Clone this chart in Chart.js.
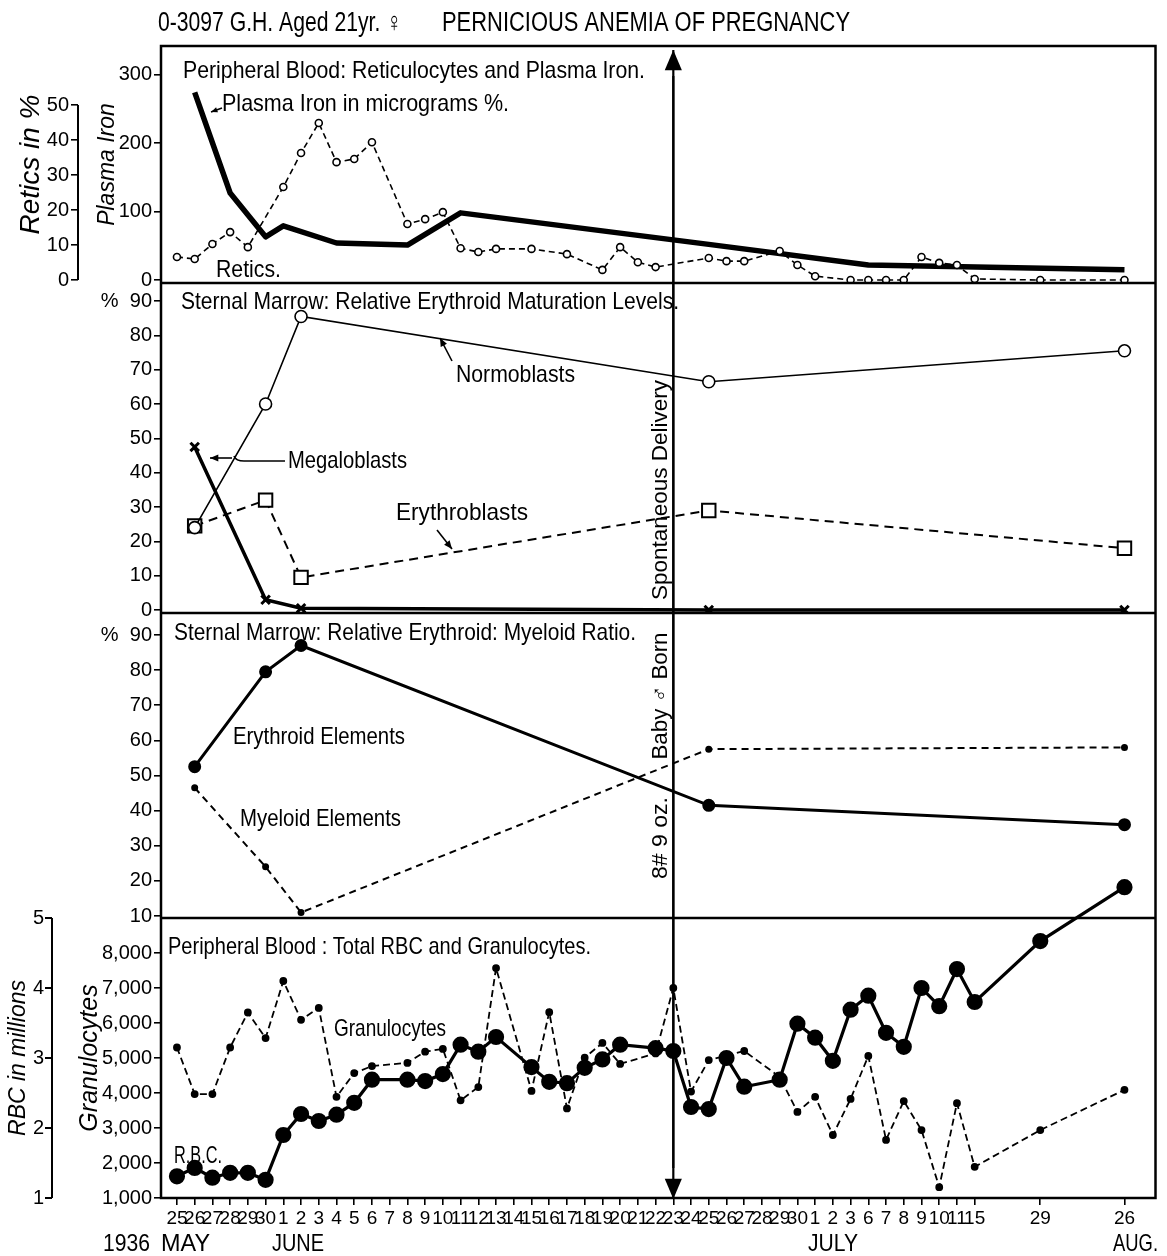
<!DOCTYPE html>
<html>
<head>
<meta charset="utf-8">
<script src="https://cdn.jsdelivr.net/npm/chart.js@4.4.1/dist/chart.umd.min.js"></script>
<style>
  html, body { margin: 0; padding: 0; background: #fff; }
</style>
</head>
<body>
<canvas id="chart" width="1167" height="1256"></canvas>
<script>
// ---- dates on the hand drawn time axis ----
const mayDays = [25, 26, 27, 28, 29, 30];
const juneDays = [1, 2, 3, 4, 5, 6, 7, 8, 9, 10, 11, 12, 13, 14, 15, 16, 17, 18, 19, 20,
                  21, 22, 23, 24, 25, 26, 27, 28, 29, 30];
const julyDays = [1, 2, 3, 6, 7, 8, 9, 10, 11, 15, 29];
const augDays = [26];

const dateKeys = [
  ...mayDays.map(d => 'May ' + d),
  ...juneDays.map(d => 'Jun ' + d),
  ...julyDays.map(d => 'Jul ' + d),
  ...augDays.map(d => 'Aug ' + d)
];
const tickLabels = [...mayDays, ...juneDays, ...julyDays, ...augDays].map(String);
// the last two columns were drawn further apart than the daily ones
const widerSlots = { 'Jul 29': 48.7, 'Aug 26': 53.45 };
const slotOf = k => (k in widerSlots ? widerSlots[k] : dateKeys.indexOf(k));

// ---- panel 1: reticulocytes (%) and plasma iron (micrograms %) ----
const retics = [
  ['May 25', 6.6], ['May 26', 6.0], ['May 27', 10.3], ['May 28', 13.7], ['May 29', 9.4],
  ['Jun 1', 26.6], ['Jun 2', 36.3], ['Jun 3', 44.9], ['Jun 4', 33.7], ['Jun 5', 34.6], ['Jun 6', 39.4],
  ['Jun 8', 16.0], ['Jun 9', 17.4], ['Jun 10', 19.4], ['Jun 11', 9.1], ['Jun 12', 8.0], ['Jun 13', 8.9],
  ['Jun 15', 8.9], ['Jun 17', 7.4], ['Jun 19', 2.9], ['Jun 20', 9.4], ['Jun 21', 5.1], ['Jun 22', 3.7],
  ['Jun 25', 6.3], ['Jun 26', 5.4], ['Jun 27', 5.4], ['Jun 29', 8.3], ['Jun 30', 4.3], ['Jul 1', 1.1],
  ['Jul 3', 0], ['Jul 6', 0], ['Jul 7', 0], ['Jul 8', 0], ['Jul 9', 6.6], ['Jul 10', 4.9],
  ['Jul 11', 4.3], ['Jul 15', 0.3], ['Jul 29', 0], ['Aug 26', 0]
];
const plasmaIron = [
  ['May 26', 274], ['May 28', 127], ['May 30', 63], ['Jun 1', 79], ['Jun 4', 54], ['Jun 8', 51],
  ['Jun 11', 98], ['Jun 25', 52], ['Jul 6', 22], ['Aug 26', 15]
];
const reticsTicks = [0, 10, 20, 30, 40, 50];
const ironTicks = [0, 100, 200, 300];

// ---- panel 2: maturation levels (%) ----
const normoblasts = [['May 26', 24], ['May 30', 60], ['Jun 2', 85.5], ['Jun 25', 66.5], ['Aug 26', 75.5]];
const erythroblasts = [['May 26', 24.5], ['May 30', 32], ['Jun 2', 9.5], ['Jun 25', 29], ['Aug 26', 18]];
const megaloblasts = [['May 26', 47.5], ['May 30', 3], ['Jun 2', 0.5], ['Jun 25', 0], ['Aug 26', 0]];
const matTicks = [0, 10, 20, 30, 40, 50, 60, 70, 80, 90];

// ---- panel 3: erythroid : myeloid (%) ----
const erythroid = [['May 26', 52.5], ['May 30', 79.5], ['Jun 2', 87], ['Jun 25', 41.5], ['Aug 26', 36]];
const myeloid = [['May 26', 46.5], ['May 30', 24], ['Jun 2', 11], ['Jun 25', 57.5], ['Aug 26', 58]];
const ratioTicks = [10, 20, 30, 40, 50, 60, 70, 80, 90];

// ---- panel 4: RBC (millions) and granulocytes ----
const rbc = [
  ['May 25', 1.31], ['May 26', 1.43], ['May 27', 1.29], ['May 28', 1.36], ['May 29', 1.36], ['May 30', 1.26],
  ['Jun 1', 1.9], ['Jun 2', 2.2], ['Jun 3', 2.1], ['Jun 4', 2.19], ['Jun 5', 2.36], ['Jun 6', 2.69],
  ['Jun 8', 2.69], ['Jun 9', 2.67], ['Jun 10', 2.77], ['Jun 11', 3.19], ['Jun 12', 3.09], ['Jun 13', 3.3],
  ['Jun 15', 2.87], ['Jun 16', 2.66], ['Jun 17', 2.64], ['Jun 18', 2.86], ['Jun 19', 2.98], ['Jun 20', 3.19],
  ['Jun 22', 3.14], ['Jun 23', 3.1], ['Jun 24', 2.3], ['Jun 25', 2.27], ['Jun 26', 3.0], ['Jun 27', 2.59],
  ['Jun 29', 2.69], ['Jun 30', 3.49], ['Jul 1', 3.29], ['Jul 2', 2.96], ['Jul 3', 3.69], ['Jul 6', 3.89],
  ['Jul 7', 3.36], ['Jul 8', 3.16], ['Jul 9', 4.0], ['Jul 10', 3.74], ['Jul 11', 4.27], ['Jul 15', 3.8],
  ['Jul 29', 4.67], ['Aug 26', 5.44]
];
const granulocytes = [
  ['May 25', 5300], ['May 26', 3970], ['May 27', 3970], ['May 28', 5300], ['May 29', 6300], ['May 30', 5570],
  ['Jun 1', 7200], ['Jun 2', 6090], ['Jun 3', 6430], ['Jun 4', 3890], ['Jun 5', 4570], ['Jun 6', 4770],
  ['Jun 8', 4860], ['Jun 9', 5180], ['Jun 10', 5260], ['Jun 11', 3790], ['Jun 12', 4170], ['Jun 13', 7570],
  ['Jun 15', 4060], ['Jun 16', 6310], ['Jun 17', 3560], ['Jun 18', 5010], ['Jun 19', 5430], ['Jun 20', 4830],
  ['Jun 22', 5130], ['Jun 23', 7000], ['Jun 24', 4040], ['Jun 25', 4940], ['Jun 27', 5200], ['Jun 29', 4460],
  ['Jun 30', 3460], ['Jul 1', 3890], ['Jul 2', 2800], ['Jul 3', 3830], ['Jul 6', 5060], ['Jul 7', 2660],
  ['Jul 8', 3770], ['Jul 9', 2940], ['Jul 10', 1310], ['Jul 11', 3710], ['Jul 15', 1890], ['Jul 29', 2940],
  ['Aug 26', 4090]
];
const rbcTicks = [1, 2, 3, 4, 5];
const granTicks = [1000, 2000, 3000, 4000, 5000, 6000, 7000, 8000];

const SANS = '"Liberation Sans", Arial, sans-serif';
const toXY = rows => rows.map(([k, v]) => ({ x: slotOf(k), y: v }));
const setTicks = list => scale => { scale.ticks = list.map(v => ({ value: v })); };
const tickFont = { family: SANS, size: 20 };
const titleFont = size => ({ family: SANS, size, style: 'italic', lineHeight: 1 });

function leftAxis(stack, weight, stackWeight, min, max, ticks, width, extra) {
  return Object.assign({
    type: 'linear', position: 'left', stack, weight, stackWeight, min, max,
    afterBuildTicks: setTicks(ticks),
    ticks: { font: tickFont, color: '#000', padding: 2, autoSkip: false },
    grid: { drawOnChartArea: false, tickLength: 7, color: '#000', lineWidth: 1.6 },
    border: { display: false },
    afterFit: s => { s.width = width; }
  }, extra || {});
}
function spacer(weight, stackWeight) {
  return {
    type: 'linear', position: 'left', stack: 'outer', weight, stackWeight,
    ticks: { display: false }, grid: { display: false }, border: { display: false },
    afterFit: s => { s.width = 78; }
  };
}
const pct90 = v => (v === 90 ? '%  90' : String(v));

function seg(ctx, x1, y1, x2, y2) {
  ctx.beginPath(); ctx.moveTo(x1, y1); ctx.lineTo(x2, y2); ctx.stroke();
}
function arrowTo(ctx, x1, y1, x2, y2, size) {
  seg(ctx, x1, y1, x2, y2);
  const ang = Math.atan2(y2 - y1, x2 - x1);
  ctx.beginPath();
  ctx.moveTo(x2, y2);
  ctx.lineTo(x2 - size * Math.cos(ang - 0.4), y2 - size * Math.sin(ang - 0.4));
  ctx.lineTo(x2 - size * Math.cos(ang + 0.4), y2 - size * Math.sin(ang + 0.4));
  ctx.closePath(); ctx.fill();
}
function fitText(ctx, txt, x, y, w, font) {
  ctx.font = font;
  const m = ctx.measureText(txt).width;
  ctx.save(); ctx.translate(x, y); ctx.scale(w / m, 1);
  ctx.textAlign = 'left'; ctx.textBaseline = 'alphabetic';
  ctx.fillText(txt, 0, 0);
  ctx.restore();
}
function upText(ctx, txt, cx, cy, len, font) {
  ctx.save(); ctx.translate(cx, cy); ctx.rotate(-Math.PI / 2);
  ctx.font = font;
  const m = ctx.measureText(txt).width;
  ctx.scale(len / m, 1);
  ctx.textAlign = 'center'; ctx.textBaseline = 'middle';
  ctx.fillText(txt, 0, 0);
  ctx.restore();
}

const notes = {
  id: 'notes',
  afterDraw(chart) {
    const { ctx, chartArea: a, scales: s } = chart;
    ctx.save();
    ctx.strokeStyle = '#000'; ctx.fillStyle = '#000';

    // frame and panel dividers
    ctx.lineWidth = 2.5;
    ctx.strokeRect(a.left, a.top, a.right - a.left, a.bottom - a.top);
    [s.yIron, s.yMat, s.yRatio].forEach(sc => seg(ctx, a.left, sc.bottom, a.right, sc.bottom));

    // outer axis spines
    ctx.lineWidth = 2;
    const r = s.yRetics;
    seg(ctx, r.right, r.getPixelForValue(reticsTicks[0]), r.right, r.getPixelForValue(reticsTicks[reticsTicks.length - 1]));
    const b = s.yRbc, bx = 52;
    seg(ctx, bx, b.getPixelForValue(rbcTicks[0]), bx, b.getPixelForValue(rbcTicks[rbcTicks.length - 1]));
    rbcTicks.forEach(v => seg(ctx, bx - 7, b.getPixelForValue(v), bx, b.getPixelForValue(v)));

    // delivery arrow
    const ax = s.x.getPixelForValue(slotOf('Jun 23'));
    ctx.lineWidth = 2.2;
    arrowTo(ctx, ax, a.bottom - 30, ax, a.top + 4, 22);
    arrowTo(ctx, ax, a.top + 30, ax, a.bottom + 1, 22);

    // header and panel labels
    const F = '24px ' + SANS;
    fitText(ctx, '0-3097 G.H. Aged 21yr. ♀', 158, 31, 244, '27px ' + SANS);
    fitText(ctx, 'PERNICIOUS ANEMIA OF PREGNANCY', 442, 31, 408, '27px ' + SANS);
    fitText(ctx, 'Peripheral Blood: Reticulocytes and Plasma Iron.', 183, 78, 462, F);
    fitText(ctx, 'Plasma Iron in micrograms %.', 222, 111, 287, F);
    fitText(ctx, 'Retics.', 216, 277, 65, F);
    fitText(ctx, 'Sternal Marrow: Relative Erythroid Maturation Levels.', 181, 309, 498, F);
    fitText(ctx, 'Normoblasts', 456, 382, 119, F);
    fitText(ctx, 'Megaloblasts', 288, 468, 119, F);
    fitText(ctx, 'Erythroblasts', 396, 520, 132, F);
    fitText(ctx, 'Sternal Marrow: Relative Erythroid: Myeloid Ratio.', 174, 640, 462, F);
    fitText(ctx, 'Erythroid Elements', 233, 744, 172, F);
    fitText(ctx, 'Myeloid Elements', 240, 826, 161, F);
    fitText(ctx, 'Peripheral Blood : Total RBC and Granulocytes.', 168, 954, 423, F);
    fitText(ctx, 'Granulocytes', 334, 1036, 112, F);
    fitText(ctx, 'R.B.C.', 174, 1163, 48, F);

    // month names under the day ticks
    fitText(ctx, '1936', 103, 1251, 47, F);
    fitText(ctx, 'MAY', 161, 1251, 49, F);
    fitText(ctx, 'JUNE', 272, 1251, 52, F);
    fitText(ctx, 'JULY', 808, 1251, 50, F);
    fitText(ctx, 'AUG.', 1113, 1251, 45, F);

    // pointers
    ctx.lineWidth = 1.6;
    arrowTo(ctx, 222, 108, 211, 112, 7);
    arrowTo(ctx, 452, 361, 440, 338, 9);
    arrowTo(ctx, 437, 530, 452, 549, 9);
    ctx.beginPath();
    ctx.moveTo(285, 461); ctx.lineTo(244, 461);
    ctx.quadraticCurveTo(236, 461, 234, 456);
    ctx.stroke();
    arrowTo(ctx, 232, 458, 210, 458, 9);

    // rotated notes along the arrow
    const S = '22px ' + SANS;
    upText(ctx, 'Spontaneous Delivery', 661, 490, 220, S);
    upText(ctx, 'Baby ♂ Born', 661, 696, 127, S);
    upText(ctx, '8# 9 oz.', 661, 838, 82, S);
    ctx.restore();
  }
};

const line = (data, yAxisID, extra) => Object.assign({
  data: toXY(data), yAxisID, borderColor: '#000', pointBorderColor: '#000',
  pointBackgroundColor: '#000', fill: false, tension: 0
}, extra);

new Chart(document.getElementById('chart'), {
  type: 'line',
  data: {
    datasets: [
      line(retics, 'yRetics', { label: 'Retics', borderWidth: 1.6, borderDash: [6, 4], pointRadius: 3.5,
        pointBackgroundColor: '#fff', pointBorderWidth: 1.6 }),
      line(plasmaIron, 'yIron', { label: 'Plasma Iron', borderWidth: 5.5, pointRadius: 0, borderJoinStyle: 'round' }),
      line(normoblasts, 'yMat', { label: 'Normoblasts', borderWidth: 1.6, pointRadius: 6,
        pointBackgroundColor: '#fff', pointBorderWidth: 1.6 }),
      line(erythroblasts, 'yMat', { label: 'Erythroblasts', borderWidth: 2, borderDash: [9, 6], pointStyle: 'rect',
        pointRadius: 9.5, pointBackgroundColor: '#fff', pointBorderWidth: 2 }),
      line(megaloblasts, 'yMat', { label: 'Megaloblasts', borderWidth: 3.5, pointStyle: 'crossRot',
        pointRadius: 6, pointBorderWidth: 3 }),
      line(erythroid, 'yRatio', { label: 'Erythroid', borderWidth: 3, pointRadius: 5 }),
      line(myeloid, 'yRatio', { label: 'Myeloid', borderWidth: 2, borderDash: [7, 5], pointRadius: 2.5 }),
      line(rbc, 'yRbc', { label: 'RBC', borderWidth: 3.2, pointRadius: 6.5, clip: false }),
      line(granulocytes, 'yGran', { label: 'Granulocytes', borderWidth: 1.8, borderDash: [7, 4], pointRadius: 3 })
    ]
  },
  options: {
    responsive: false,
    animation: false,
    layout: { padding: { top: 46, right: 10, bottom: 0, left: 0 } },
    plugins: { legend: { display: false }, tooltip: { enabled: false } },
    scales: {
      x: {
        type: 'linear', position: 'bottom', min: -0.9, max: 55.2,
        afterBuildTicks: s => { s.ticks = dateKeys.map(k => ({ value: slotOf(k) })); },
        ticks: { autoSkip: false, maxRotation: 0, minRotation: 0, color: '#000', padding: 2,
          font: { family: SANS, size: 19 }, callback: (v, i) => tickLabels[i] },
        grid: { drawOnChartArea: false, tickLength: 7, color: '#000', lineWidth: 1.6 },
        border: { display: false },
        afterFit: s => { s.height = 58; }
      },
      yRetics: leftAxis('outer', 8, 237, -0.85, 66.9, reticsTicks, 78, {
        title: { display: true, text: 'Retics in %', color: '#000', font: titleFont(28), padding: { top: 17, bottom: 0 } }
      }),
      yPad2: spacer(7, 330),
      yPad3: spacer(6, 305),
      yRbc: leftAxis('outer', 5, 280, 1, 5, rbcTicks, 78, {
        grid: { display: false },
        ticks: { font: tickFont, color: '#000', padding: 26, autoSkip: false },
        title: { display: true, text: 'RBC in millions', color: '#000', font: titleFont(23), padding: { top: 7, bottom: 0 } }
      }),
      yIron: leftAxis('inner', 4, 237, -4.4, 341.6, ironTicks, 83, {
        title: { display: true, text: 'Plasma Iron', color: '#000', font: titleFont(23), padding: { top: 18, bottom: 0 } }
      }),
      yMat: leftAxis('inner', 3, 330, -0.87, 95.25, matTicks, 83, {
        ticks: { font: tickFont, color: '#000', padding: 2, autoSkip: false, callback: pct90 }
      }),
      yRatio: leftAxis('inner', 2, 305, 9.43, 96.26, ratioTicks, 83, {
        ticks: { font: tickFont, color: '#000', padding: 2, autoSkip: false, callback: pct90 }
      }),
      yGran: leftAxis('inner', 1, 280, 1000, 9000, granTicks, 83, {
        ticks: { font: tickFont, color: '#000', padding: 2, autoSkip: false, callback: v => v.toLocaleString('en-US') },
        title: { display: true, text: 'Granulocytes', color: '#000', font: titleFont(25), padding: { top: 0, bottom: 0 } }
      })
    }
  },
  plugins: [notes]
});
</script>
</body>
</html>
